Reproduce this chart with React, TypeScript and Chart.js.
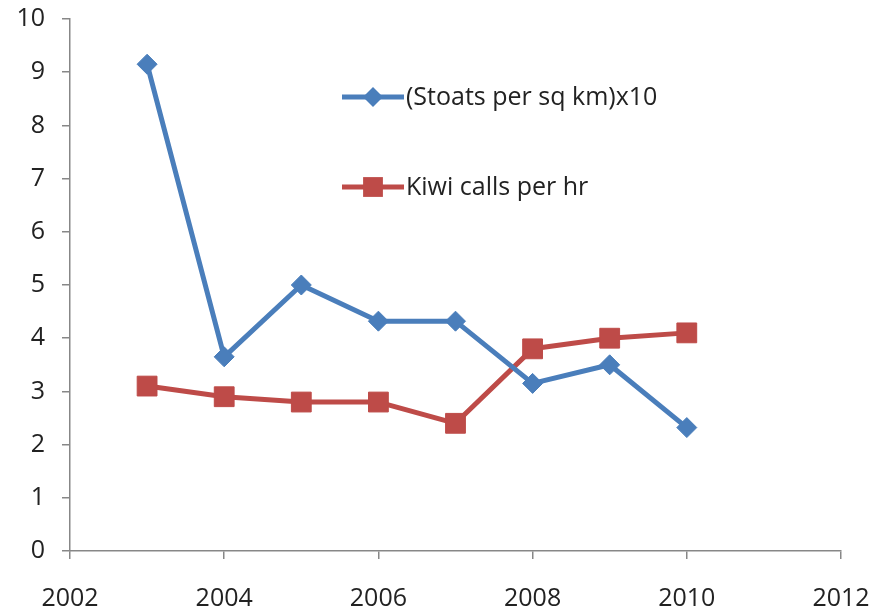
import React, { useEffect, useRef } from "react";
import { Chart, registerables } from "chart.js";

Chart.register(...registerables);

const years = [2003, 2004, 2005, 2006, 2007, 2008, 2009, 2010];
const stoats = [9.15, 3.65, 5.0, 4.32, 4.32, 3.15, 3.5, 2.32];
const kiwi = [3.1, 2.9, 2.8, 2.8, 2.4, 3.8, 4.0, 4.1];
const seriesNames = ["(Stoats per sq km)x10", "Kiwi calls per hr"];
const xMin = 2002;
const xMax = 2012;
const xStep = 2;
const yMin = 0;
const yMax = 10;
const yStep = 1;

const BLUE = "#4A7EBB";
const RED = "#BE4B48";
const AXIS = "#878787";
const FONT = "'Open Sans', Lato, sans-serif";
const FONT_SIZE = 25;

const legendPlugin = {
  id: "insideLegend",
  afterDraw(chart: any) {
    const { ctx, chartArea } = chart;
    const items = chart.data.datasets.map((ds: any, i: number) => ({
      label: ds.label,
      color: ds.borderColor,
      style: ds.pointStyle,
      radius: ds.pointRadius,
      y: chartArea.top + 78 + i * 90,
    }));
    ctx.save();
    items.forEach((it: any) => {
      const x0 = chartArea.left + 272;
      const x1 = x0 + 62;
      ctx.strokeStyle = it.color;
      ctx.lineWidth = 5;
      ctx.beginPath();
      ctx.moveTo(x0, it.y);
      ctx.lineTo(x1, it.y);
      ctx.stroke();
      ctx.fillStyle = it.color;
      const cx = (x0 + x1) / 2;
      ctx.beginPath();
      if (it.style === "rectRot") {
        const r = it.radius;
        ctx.moveTo(cx - r, it.y);
        ctx.lineTo(cx, it.y - r);
        ctx.lineTo(cx + r, it.y);
        ctx.lineTo(cx, it.y + r);
        ctx.closePath();
      } else {
        const s = it.radius * Math.SQRT1_2;
        ctx.rect(cx - s, it.y - s, 2 * s, 2 * s);
      }
      ctx.fill();
      ctx.fillStyle = "#222";
      ctx.font = `${FONT_SIZE}px ${FONT}`;
      ctx.textAlign = "left";
      ctx.textBaseline = "middle";
      ctx.fillText(it.label, x1 + 2, it.y + 1);
    });
    ctx.restore();
  },
};

const noScalePadding = (s: any) => {
  s.paddingTop = 0;
  s.paddingBottom = 0;
  s.paddingLeft = 0;
  s.paddingRight = 0;
};

export default function App() {
  const ref = useRef<HTMLCanvasElement | null>(null);
  useEffect(() => {
    document.body.style.margin = "0";
    const canvas = ref.current!;
    const chart = new Chart(canvas, {
      type: "line",
      data: {
        datasets: [
          {
            label: seriesNames[0],
            data: years.map((y, i) => ({ x: y, y: stoats[i] })),
            borderColor: BLUE,
            backgroundColor: BLUE,
            borderWidth: 5,
            pointStyle: "rectRot",
            pointRadius: 10,
            pointBorderWidth: 1,
            pointHoverRadius: 10,
            tension: 0,
          },
          {
            label: seriesNames[1],
            data: years.map((y, i) => ({ x: y, y: kiwi[i] })),
            borderColor: RED,
            backgroundColor: RED,
            borderWidth: 5,
            pointStyle: "rect",
            pointRadius: 14,
            pointBorderWidth: 1,
            pointHoverRadius: 14,
            tension: 0,
          },
        ],
      },
      options: {
        animation: false,
        responsive: false,
        maintainAspectRatio: false,
        layout: { padding: { top: 19, right: 32, left: 0, bottom: 0 } },
        plugins: { legend: { display: false }, tooltip: { enabled: false } },
        elements: { line: { borderCapStyle: "round", borderJoinStyle: "round" } },
        scales: {
          x: {
            type: "linear",
            min: xMin,
            max: xMax,
            ticks: {
              stepSize: xStep,
              color: "#222",
              font: { family: FONT, size: FONT_SIZE },
              padding: 25,
              maxRotation: 0,
              callback: (v: any) => String(v),
            },
            grid: { drawOnChartArea: false, color: AXIS, tickLength: 8, lineWidth: 1.5 },
            border: { color: AXIS, width: 1.5 },
            afterFit: (s: any) => {
              s.height = 62;
              noScalePadding(s);
            },
          },
          y: {
            min: yMin,
            max: yMax,
            ticks: {
              stepSize: yStep,
              color: "#222",
              font: { family: FONT, size: FONT_SIZE },
              padding: 17,
            },
            grid: { drawOnChartArea: false, color: AXIS, tickLength: 8, lineWidth: 1.5 },
            border: { color: AXIS, width: 1.5 },
            afterFit: (s: any) => {
              s.width = 70;
              noScalePadding(s);
            },
          },
        },
      },
      plugins: [legendPlugin],
    });
    return () => chart.destroy();
  }, []);
  return (
    <div style={{ position: "absolute", left: 0, top: 0, width: 873, height: 613, background: "#fff" }}>
      <canvas ref={ref} width={873} height={613} style={{ width: 873, height: 613 }} />
    </div>
  );
}
